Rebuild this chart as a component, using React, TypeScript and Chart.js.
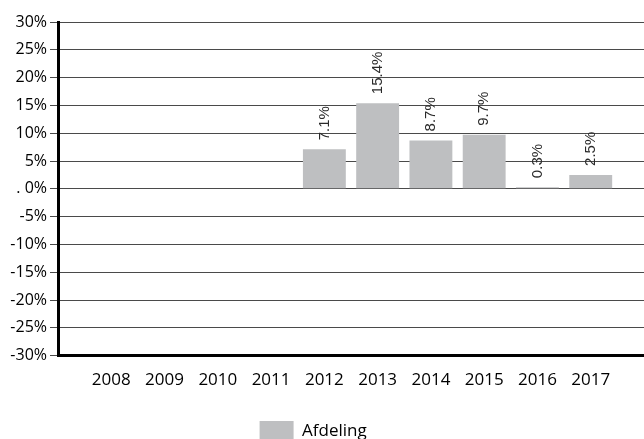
import React, { useEffect, useRef } from "react";
import { Chart, registerables } from "chart.js";

Chart.register(...registerables);

const categories = ["", "2008", "2009", "2010", "2011", "2012", "2013", "2014", "2015", "2016", "2017", ""];
const afdeling: (number | null)[] = [null, null, null, null, null, 7.1, 15.4, 8.7, 9.7, 0.3, 2.5, null];
const yTicks = [-30, -25, -20, -15, -10, -5, 0, 5, 10, 15, 20, 25, 30];
const seriesName = "Afdeling";

const labelPlugin = {
  id: "barLabels",
  afterDatasetsDraw(chart: any) {
    const ctx = chart.ctx;
    const meta = chart.getDatasetMeta(0);
    const data = chart.data.datasets[0].data;
    ctx.save();
    ctx.font = "15px 'Liberation Sans', Arial, sans-serif";
    ctx.fillStyle = "#2a2a2a";
    ctx.textAlign = "left";
    ctx.textBaseline = "middle";
    meta.data.forEach((bar: any, i: number) => {
      const v = data[i];
      if (v === null || v === undefined) return;
      ctx.save();
      ctx.translate(bar.x, bar.y - 9);
      ctx.rotate(-Math.PI / 2);
      ctx.fillText(v.toFixed(1) + "%", 0, 0);
      ctx.restore();
    });
    ctx.restore();
  },
};

export default function App() {
  const ref = useRef<HTMLCanvasElement>(null);
  useEffect(() => {
    document.body.style.margin = "0";
    const chart = new Chart(ref.current!, {
      type: "bar",
      data: {
        labels: categories,
        datasets: [
          {
            label: seriesName + "\u00a0\u00a0\u00a0\u00a0",
            data: afdeling,
            backgroundColor: "#bebfc1",
            borderWidth: 0,
            barPercentage: 1,
            categoryPercentage: 0.805,
          },
        ],
      },
      plugins: [labelPlugin],
      options: {
        animation: false,
        responsive: true,
        maintainAspectRatio: false,
        layout: { padding: { top: 22, right: 0, left: 0, bottom: 0 } },
        plugins: {
          tooltip: { enabled: false },
          legend: {
            position: "bottom",
            labels: {
              boxWidth: 34,
              boxHeight: 20,
              color: "#000",
              font: { family: "'Open Sans', sans-serif", size: 17 },
              padding: 10,
            },
          },
        },
        scales: {
          x: {
            offset: false,
            grid: {
              display: true,
              drawOnChartArea: false,
              drawTicks: true,
              tickLength: 14,
              color: "rgba(0,0,0,0)",
            },
            border: { display: true, color: "#000", width: 3 },
            afterFit: (s: any) => {
              s.height += 21;
            },
            ticks: {
              color: "#000",
              padding: 0,
              autoSkip: false,
              maxRotation: 0,
              font: { family: "'Open Sans', sans-serif", size: 17 },
            },
          },
          y: {
            min: -30,
            max: 30,
            afterBuildTicks: (s: any) => {
              s.ticks = yTicks.map((v) => ({ value: v }));
            },
            afterFit: (s: any) => {
              s.width = 58;
            },
            grid: { color: "#4a4a4a", lineWidth: 1, tickLength: 8, drawTicks: true },
            border: { display: true, color: "#000", width: 3 },
            ticks: {
              color: "#000",
              padding: 3,
              font: { family: "'Open Sans', sans-serif", size: 16 },
              callback: (v: any) => (v === 0 ? ". 0%" : v + "%"),
            },
          },
        },
      },
    });
    return () => chart.destroy();
  }, []);
  return (
    <div style={{ position: "fixed", left: 0, top: 0, width: 644, height: 451 }}>
      <canvas ref={ref} />
    </div>
  );
}
